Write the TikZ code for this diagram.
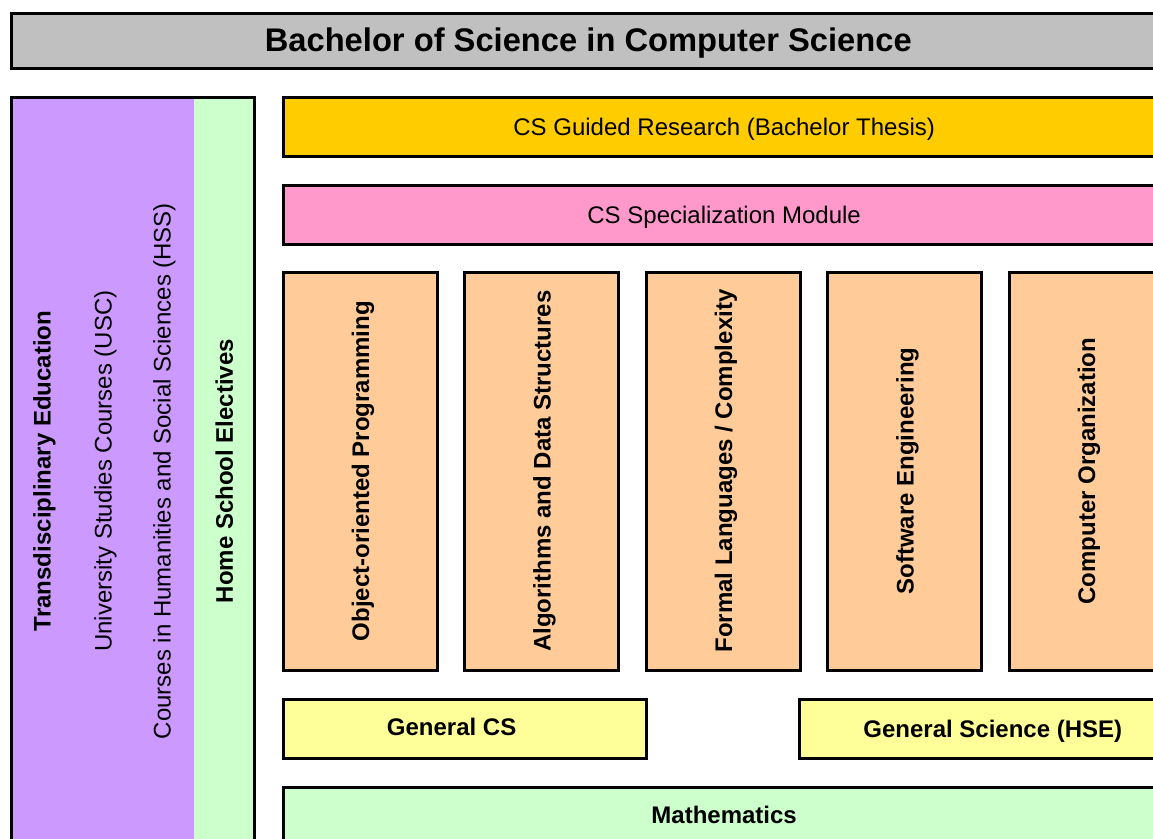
\documentclass[tikz,border=0pt]{standalone}
\usepackage{fontspec}
\setmainfont{Liberation Sans}
\usetikzlibrary{positioning}

\definecolor{titlegray}{HTML}{C0C0C0}
\definecolor{tdecol}{HTML}{CC99FF}
\definecolor{greencol}{HTML}{CCFFCC}
\definecolor{thesiscol}{HTML}{FFCC00}
\definecolor{speccol}{HTML}{FF99CC}
\definecolor{corecol}{HTML}{FFCC99}
\definecolor{gencol}{HTML}{FFFF99}

\begin{document}
\begin{tikzpicture}[x=1pt, y=-1pt, node distance=27.5pt,
    every node/.style={inner sep=0pt, outer sep=0pt, text depth=0pt},
    block/.style={draw, line width=3pt, font=\fontsize{24}{28}\selectfont},
    wideblock/.style={block, minimum width=881.7pt, minimum height=59pt},
    course/.style={block, fill=corecol, minimum width=154pt, minimum height=398pt},
    uptext/.style={rotate=90, font=\fontsize{24}{28}\selectfont},
    upbold/.style={rotate=90, font=\bfseries\fontsize{24}{28}\selectfont},
    boldtext/.style={font=\bfseries\fontsize{24}{28}\selectfont}]
    \useasboundingbox (0,0) rectangle (1153,838);
    \clip (0,0) rectangle (1153,838);

    % Nodes
    \node (title) [block, fill=titlegray, anchor=north west, minimum width=1153.5pt,
        minimum height=54.5pt, text depth=3pt, font=\bfseries\fontsize{32.7}{38}\selectfont]
        at (11.5,13.8) {Bachelor of Science in Computer Science};

    \node (tdepanel) [fill=tdecol, anchor=north west, minimum width=182.5pt,
        minimum height=750pt] at (11.5,97) {};
    \node (hsepanel) [fill=greencol, right=0pt of tdepanel, minimum width=60.5pt,
        minimum height=750pt] {};

    \node (thesis) [wideblock, fill=thesiscol, anchor=north west] at (283.3,97)
        {CS Guided Research (Bachelor Thesis)};
    \node (spec) [wideblock, fill=speccol, below=29pt of thesis] {CS Specialization Module};

    \node (col1) [course, below=28pt of spec.south west, anchor=north west] {};
    \node (col2) [course, right=of col1] {};
    \node (col3) [course, right=of col2] {};
    \node (col4) [course, right=of col3] {};
    \node (col5) [course, right=of col4] {};

    \node (gencs) [block, fill=gencol, below=29pt of col1.south west, anchor=north west,
        minimum width=362.7pt, minimum height=59pt] {};
    \node (gensci) [block, fill=gencol, below=29pt of col4.south west, anchor=north west,
        xshift=-28pt, minimum width=400pt, minimum height=59pt] {};
    \node (math) [wideblock, fill=greencol, below=29pt of gencs.south west, anchor=north west,
        minimum height=56pt, font=\bfseries\fontsize{24}{28}\selectfont] {Mathematics};

    % Labels
    \node (tdetext) [upbold] at (42,471) {Transdisciplinary Education};
    \node (usctext) [uptext] at (103,471) {University Studies Courses (USC)};
    \node (hsstext) [uptext] at (162,471) {Courses in Humanities and Social Sciences (HSS)};
    \node (hsetext) [upbold] at (hsepanel.center |- tdetext) {Home School Electives};

    \node (col1text) [upbold] at (col1) {Object-oriented Programming};
    \node (col2text) [upbold] at (col2) {Algorithms and Data Structures};
    \node (col3text) [upbold] at (col3) {Formal Languages / Complexity};
    \node (col4text) [upbold] at (col4) {Software Engineering};
    \node (col5text) [upbold] at (col5) {Computer Organization};

    \node (gencstext) [boldtext] at ([xshift=-13pt, yshift=2pt]gencs.center) {General CS};
    \node (genscitext) [boldtext] at ([xshift=-7pt]gensci.center) {General Science (HSE)};

    % Frame
    \draw[line width=3pt] (tdepanel.north west) rectangle (hsepanel.south east);
\end{tikzpicture}
\end{document}
